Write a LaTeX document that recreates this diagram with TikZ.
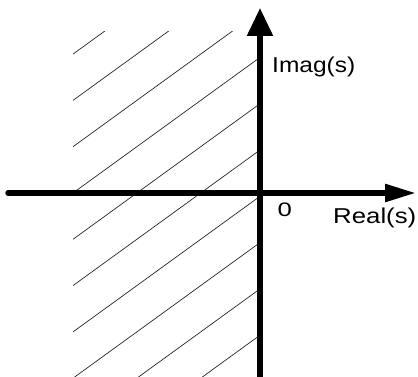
\documentclass[tikz,border=0pt]{standalone}
\usepackage{fontspec}
\setmainfont{Liberation Sans}
\usetikzlibrary{arrows.meta}
\begin{document}
\begin{tikzpicture}[x=1pt,y=-1pt,
  axis/.style={line width=5.5pt,draw=black},
  hatch/.style={line width=0.7pt,draw=black!85},
  lbl/.style={inner sep=0pt,anchor=base west,font=\fontsize{21.5}{25}\selectfont}]
\useasboundingbox (0,0) rectangle (418,377);
% hatched half plane
\begin{scope}
  \clip (73,32) rectangle (259,378);
  \foreach \k in {-4,...,6}{
    \draw[hatch] (73,{193+46.3*\k}) -- (260,{193+46.3*\k-135.6});
  }
\end{scope}
% axes
\coordinate (xs) at (8,193);
\coordinate (xe) at (416,193);
\coordinate (ys) at (260,378);
\coordinate (ye) at (260,8);
\draw[axis,line cap=round,-{Triangle[length=31pt,width=17pt]}] (xs) -- (xe);
\draw[axis,-{Triangle[length=28pt,width=25pt]}] (ys) -- (ye);
% labels
\node[lbl] (im) at (272,72.5) {\scalebox{1.14}[1]{Imag(s)}};
\node[lbl] (re) at (333,223) {\scalebox{1.2}[1]{Real(s)}};
\node[lbl,font=\fontsize{19.5}{23}\selectfont] (zero) at (277.5,216.5) {\scalebox{1.32}[1]{0}};
\end{tikzpicture}
\end{document}
